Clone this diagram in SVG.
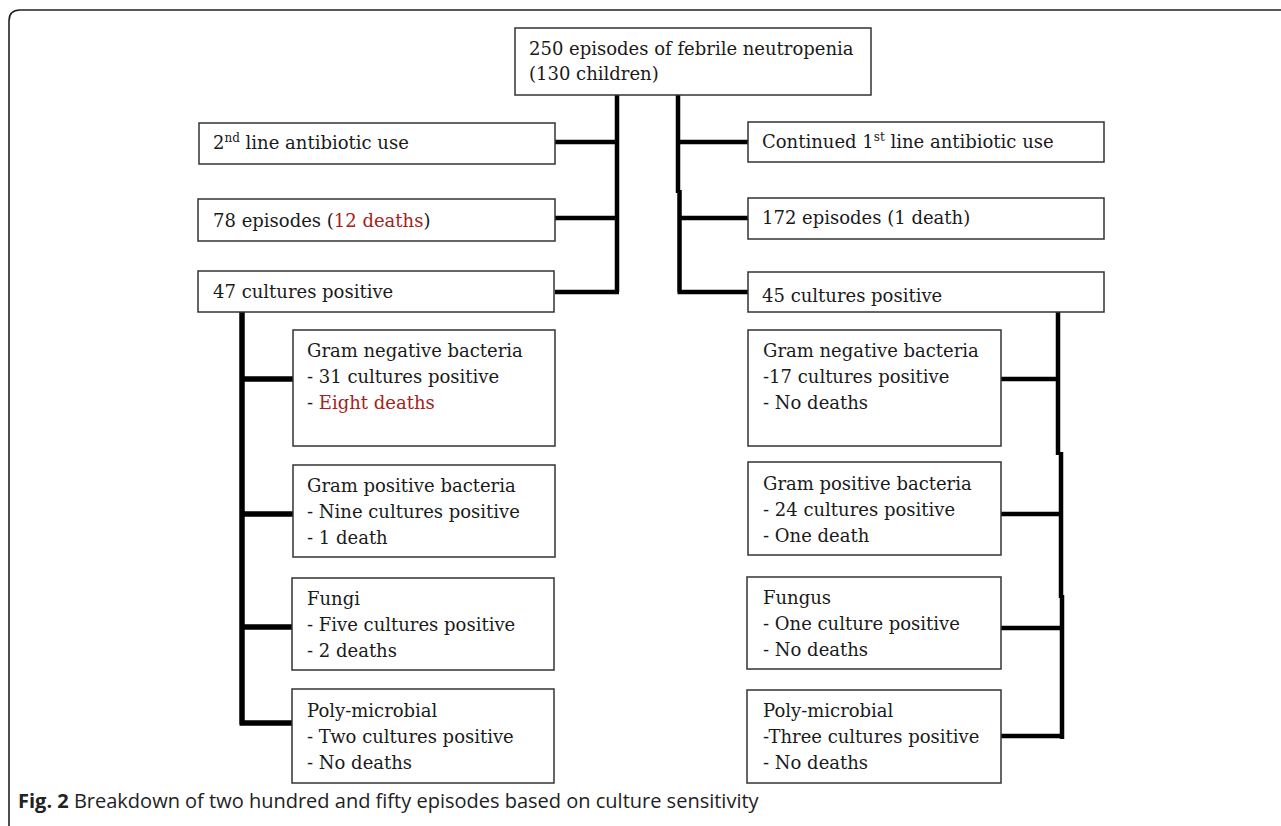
<svg xmlns="http://www.w3.org/2000/svg" width="1281" height="826" viewBox="0 0 1281 826">
<style>
.box{fill:#fff;stroke:#333;stroke-width:1.5}
.t{font-family:"DejaVu Serif","Liberation Serif",serif;font-size:18px;fill:#1a1a1a}
.red{fill:#a8201a}
.c{stroke:#000;fill:none;stroke-linecap:butt}
.cap{font-family:"Open Sans","Noto Sans",sans-serif;font-size:20px;fill:#222}
</style>
<rect width="1281" height="826" fill="#fff"/>
<path d="M9,826 V21 Q9,10 20,10 H1281" fill="none" stroke="#222" stroke-width="1.6"/>
<g id="connectors">
<path class="c" stroke-width="4.5" d="M617,95 V292 M555,142 H617 M555,218 H617 M555,292 H619"/>
<path class="c" stroke-width="4.5" d="M678,95 V193 M679.5,190 V292 M678,142 H749 M678,218 H749 M677.5,292 H749"/>
<path class="c" stroke-width="5.5" d="M242,312 V724 M242,379 H293 M242,514 H293 M242,627 H293 M239.5,723 H294"/>
<path class="c" stroke-width="4.5" d="M1058,312 V455 M1061,452 V598 M1062,595 V739 M1001,379 H1058 M1001,514 H1061 M1001,628 H1062 M1001,736 H1062"/>
</g>
<g id="n_top"><rect class="box" x="515" y="28" width="356" height="67"/>
<text class="t" x="529" y="55">250 episodes of febrile neutropenia</text>
<text class="t" x="529" y="80">(130 children)</text></g>
<g id="n_l1"><rect class="box" x="199" y="123" width="356" height="41"/>
<text class="t" x="213" y="149">2<tspan font-size="12" dy="-7">nd</tspan><tspan dy="7"> line antibiotic use</tspan></text></g>
<g id="n_l2"><rect class="box" x="198" y="199" width="357" height="42"/>
<text class="t" x="213" y="227">78 episodes (<tspan class="red">12 deaths</tspan>)</text></g>
<g id="n_l3"><rect class="box" x="198" y="271" width="356" height="41"/>
<text class="t" x="213" y="298">47 cultures positive</text></g>
<g id="n_r1"><rect class="box" x="748" y="122" width="356" height="40"/>
<text class="t" x="762" y="148">Continued 1<tspan font-size="12" dy="-7">st</tspan><tspan dy="7"> line antibiotic use</tspan></text></g>
<g id="n_r2"><rect class="box" x="748" y="198" width="356" height="41"/>
<text class="t" x="762" y="224">172 episodes (1 death)</text></g>
<g id="n_r3"><rect class="box" x="748" y="272" width="356" height="40"/>
<text class="t" x="762" y="302">45 cultures positive</text></g>
<g id="n_lgn"><rect class="box" x="293" y="330" width="262" height="116"/>
<text class="t" x="307" y="357">Gram negative bacteria</text>
<text class="t" x="307" y="383">- 31 cultures positive</text>
<text class="t" x="307" y="409">- <tspan class="red">Eight deaths</tspan></text></g>
<g id="n_lgp"><rect class="box" x="293" y="465" width="262" height="92"/>
<text class="t" x="307" y="492">Gram positive bacteria</text>
<text class="t" x="307" y="518">- Nine cultures positive</text>
<text class="t" x="307" y="544">- 1 death</text></g>
<g id="n_lf"><rect class="box" x="292" y="578" width="262" height="92"/>
<text class="t" x="307" y="605">Fungi</text>
<text class="t" x="307" y="631">- Five cultures positive</text>
<text class="t" x="307" y="657">- 2 deaths</text></g>
<g id="n_lp"><rect class="box" x="292" y="689" width="262" height="94"/>
<text class="t" x="307" y="717">Poly-microbial</text>
<text class="t" x="307" y="743">- Two cultures positive</text>
<text class="t" x="307" y="769">- No deaths</text></g>
<g id="n_rgn"><rect class="box" x="748" y="330" width="253" height="116"/>
<text class="t" x="763" y="357">Gram negative bacteria</text>
<text class="t" x="763" y="383">-17 cultures positive</text>
<text class="t" x="763" y="409">- No deaths</text></g>
<g id="n_rgp"><rect class="box" x="748" y="462" width="253" height="93"/>
<text class="t" x="763" y="490">Gram positive bacteria</text>
<text class="t" x="763" y="516">- 24 cultures positive</text>
<text class="t" x="763" y="542">- One death</text></g>
<g id="n_rf"><rect class="box" x="747" y="577" width="254" height="92"/>
<text class="t" x="763" y="604">Fungus</text>
<text class="t" x="763" y="630">- One culture positive</text>
<text class="t" x="763" y="656">- No deaths</text></g>
<g id="n_rp"><rect class="box" x="747" y="690" width="254" height="93"/>
<text class="t" x="763" y="717">Poly-microbial</text>
<text class="t" x="763" y="743">-Three cultures positive</text>
<text class="t" x="763" y="769">- No deaths</text></g>
<text class="cap" x="18" y="808"><tspan font-weight="bold">Fig. 2</tspan> Breakdown of two hundred and fifty episodes based on culture sensitivity</text>
</svg>
